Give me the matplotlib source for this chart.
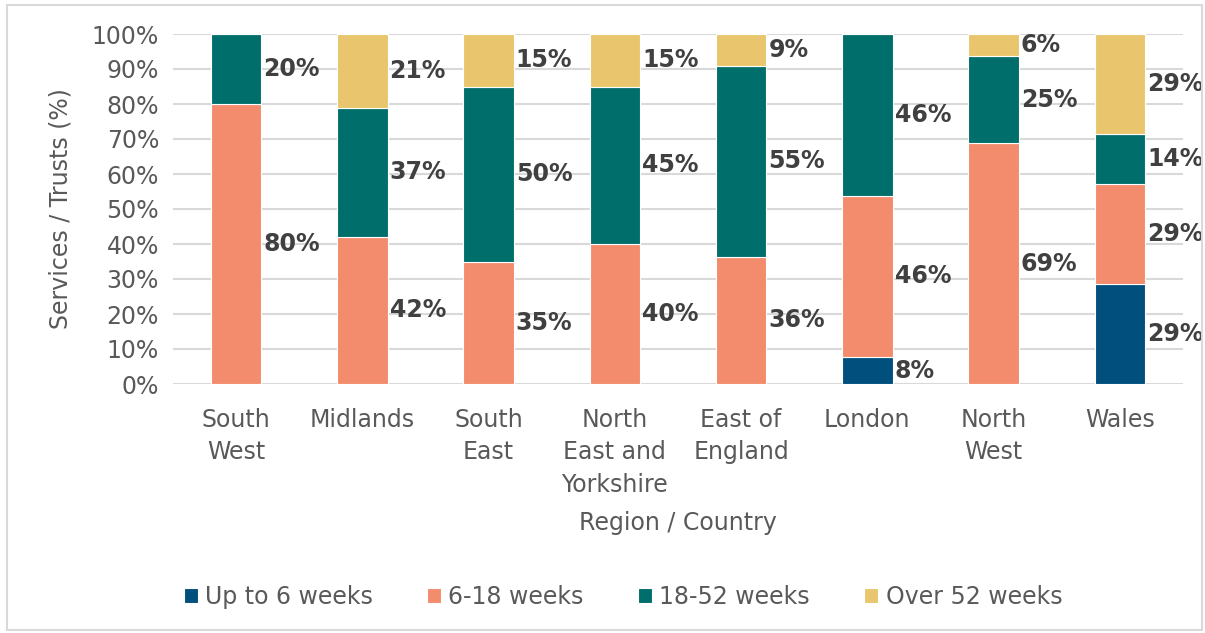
import matplotlib
matplotlib.use("Agg")
import matplotlib.pyplot as plt
from matplotlib.patches import Rectangle
import numpy as np

categories = ["South\nWest", "Midlands", "South\nEast", "North\nEast and\nYorkshire",
              "East of\nEngland", "London", "North\nWest", "Wales"]
series_names = ["Up to 6 weeks", "6-18 weeks", "18-52 weeks", "Over 52 weeks"]
up_to_6 = [0, 0, 0, 0, 0, 7.7, 0, 28.57]
w6_18 = [80, 42.1, 35, 40, 36.4, 46.15, 68.75, 28.57]
w18_52 = [20, 36.8, 50, 45, 54.6, 46.15, 25, 14.29]
over_52 = [0, 21.1, 15, 15, 9.0, 0, 6.25, 28.57]
colors = ["#004F7C", "#F28C6C", "#006E6A", "#E9C66E"]

plt.rcParams['font.family'] = ['DejaVu Sans']
fig = plt.figure(figsize=(12.05, 6.33), dpi=100)
ax = fig.add_axes([173/1205, 1-384/633, 1010/1205, 350/633])

x = np.arange(len(categories))
bw = 0.4
bottom = np.zeros(len(categories))
data = [up_to_6, w6_18, w18_52, over_52]
for vals, c, name in zip(data, colors, series_names):
    vals = np.array(vals, dtype=float)
    ax.bar(x, vals, bw, bottom=bottom, color=c, edgecolor="white", linewidth=0.8,
           label=name, zorder=3)
    for xi, b, v in zip(x, bottom, vals):
        if v > 0:
            ax.text(xi + bw/2 + 0.015, b + v/2, f"{v:.0f}%", ha="left", va="center",
                    fontsize=17, fontweight="bold", color="#404040", zorder=4)
    bottom += vals

ax.set_xlim(-0.5, len(categories) - 0.5)
ax.set_ylim(0, 100)
ax.set_yticks(np.arange(0, 101, 10))
ax.set_yticklabels([f"{v}%" for v in range(0, 101, 10)])
ax.set_xticks(x)
ax.set_xticklabels(categories, linespacing=1.45)
ax.tick_params(axis="both", length=0, labelsize=17, labelcolor="#595959")
ax.tick_params(axis="x", pad=17)
ax.tick_params(axis="y", pad=10)
ax.grid(axis="y", color="#D9D9D9", linewidth=1.5, zorder=0)
for s in ax.spines.values():
    s.set_visible(False)
ax.set_ylabel("Services / Trusts (%)", fontsize=17, color="#595959", labelpad=14)
ax.set_xlabel("Region / Country", fontsize=17, color="#595959", labelpad=10)

fig.legend(loc="center", bbox_to_anchor=(0.517, 1-597/633), ncol=4, frameon=False,
           fontsize=17, labelcolor="#595959", handlelength=0.6, handleheight=0.6,
           handletextpad=0.3, columnspacing=2.3)

fig.patches.append(Rectangle((7/1205, 3/633), 1195/1205, 625/633, transform=fig.transFigure,
                             fill=False, edgecolor="#D9D9D9", linewidth=1.5))
fig.savefig("out.png", dpi=100)
